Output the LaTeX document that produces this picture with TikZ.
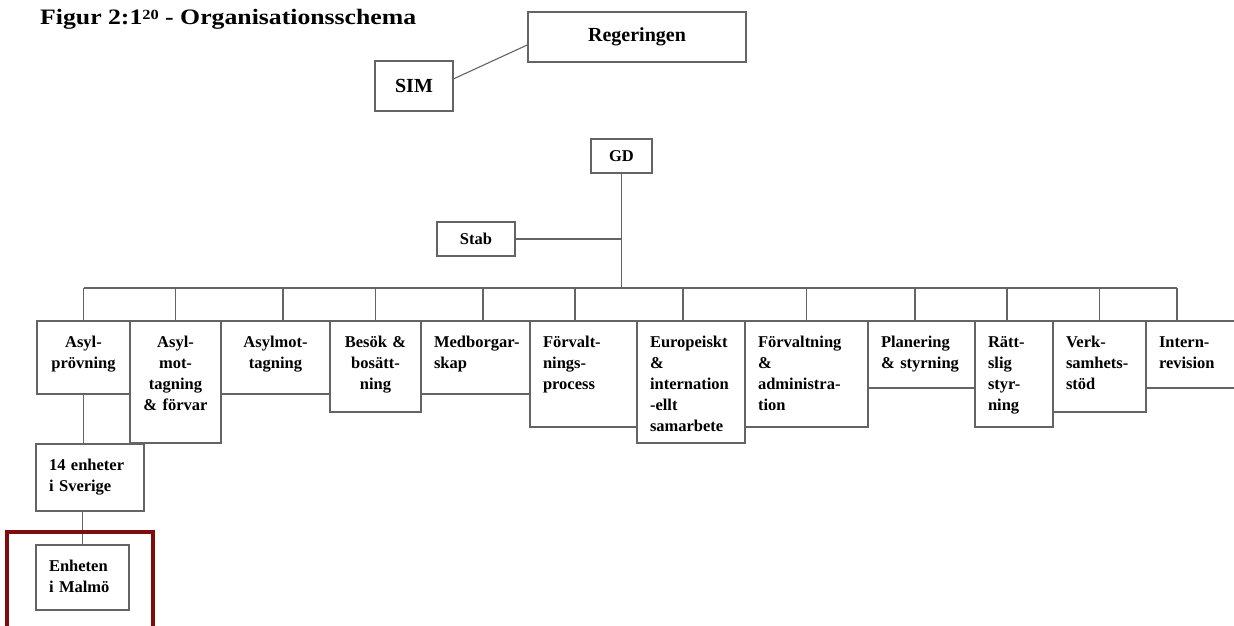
\documentclass[tikz,border=0pt]{standalone}
\usepackage{fontspec}
\setmainfont{Liberation Serif}
\newfontfamily\rubrikfont[FakeStretch=1.17]{Liberation Serif}
\usepackage{tikz}
\usetikzlibrary{positioning,calc}
\definecolor{orglinje}{RGB}{100,100,100}
\definecolor{markrod}{RGB}{128,12,12}

\begin{document}
\begin{tikzpicture}[x=1pt, y=-1pt,
    ledning/.style={draw=orglinje, line width=1.1pt},
    topbox/.style={draw=orglinje, line width=1.1pt, rectangle, inner sep=0pt, outer sep=0pt, font=\fontsize{20}{24}\selectfont\bfseries},
    litenbox/.style={topbox, font=\fontsize{16.5}{21}\selectfont\bfseries},
    enhet/.style={draw=orglinje, line width=1.1pt, rectangle, anchor=north west, outer sep=0pt, inner xsep=13pt, inner ysep=4pt, text height=22pt, font=\fontsize{16.5}{21}\selectfont\bfseries, align=left},
    mitt/.style={enhet, align=center}]
    \path[use as bounding box, fill=white] (0,0) rectangle (1234,625);

    \node[anchor=base west, inner sep=0pt, font=\rubrikfont\fontsize{22}{26}\selectfont\bfseries] (rubrik) at (40,24) {Figur 2:1\raisebox{5pt}{\fontsize{14}{14}\selectfont 20} - Organisationsschema};

    \node[topbox, minimum width=218pt, minimum height=50pt] (regeringen) at (637,37) {Regeringen};
    \node[topbox, minimum width=78pt, minimum height=50pt] (sim) at (414,86) {SIM};
    \node[litenbox, minimum width=61pt, minimum height=34pt] (gd) at (621.5,156) {GD};
    \node[litenbox, minimum width=78pt, minimum height=34pt] (stab) at (476,239) {Stab};

    \coordinate (buss) at (0,288);

    \node[mitt, text width=67pt, text depth=43pt] (asylprov) at (37,321) {Asyl-\\prövning};
    \node[mitt, text width=65pt, text depth=92pt] (asylforvar) at (asylprov.north east) {Asyl-\\mot-\\tagning\\\& förvar};
    \node[mitt, text width=83pt, text depth=43pt] (asylmot) at (asylforvar.north east) {Asylmot-\\tagning};
    \node[mitt, text width=65pt, text depth=61pt] (besok) at (asylmot.north east) {Besök \&\\bosätt-\\ning};
    \node[enhet, text width=83pt, text depth=43pt] (medborg) at (besok.north east) {\mbox{Medborgar-}\\skap};
    \node[enhet, text width=81pt, text depth=76pt] (forvproc) at (medborg.north east) {Förvalt-\\nings-\\process};
    \node[enhet, text width=82pt, text depth=92pt] (europa) at (forvproc.north east) {Europeiskt\\\&\\internation\\-ellt\\samarbete};
    \node[enhet, text width=97pt, text depth=76pt] (forvadm) at (europa.north east) {Förvaltning\\\&\\administra-\\tion};
    \node[enhet, text width=81pt, text depth=37pt] (planering) at (forvadm.north east) {Planering\\\& styrning};
    \node[enhet, text width=52pt, text depth=76pt] (rattslig) at (planering.north east) {Rätt-\\slig\\styr-\\ning};
    \node[enhet, text width=67pt, text depth=61pt] (verksamhet) at (rattslig.north east) {Verk-\\samhets-\\stöd};
    \node[enhet, text width=64pt, text depth=37pt] (intrev) at (verksamhet.north east) {Intern-\\revision};

    \node[enhet, text width=82pt, text depth=37pt] (sverige) at (36,444) {14 enheter\\i Sverige};
    \node[enhet, text width=67pt, text depth=35pt] (malmo) at (36,545) {Enheten\\i Malmö};

    % ledningslinjer
    \draw[ledning] (sim.10) -- (regeringen.184);
    \draw[ledning] (gd.south) -- (gd.south |- buss);
    \draw[ledning] (stab.east) -- (stab.east -| gd.south);
    \draw[ledning] (asylprov.north |- buss) -- ([xshift=-14pt]intrev.north |- buss);
    \foreach \enh/\dx in {asylprov/0, asylforvar/0, asylmot/7.5, besok/0, medborg/7.5, forvproc/-8.5, europa/-8, forvadm/0, planering/-6.5, rattslig/-7, verksamhet/0, intrev/-14}
        \draw[ledning] ([xshift=\dx pt]\enh.north) -- ([xshift=\dx pt]\enh.north |- buss);
    \draw[ledning] (asylprov.south) -- (asylprov.south |- sverige.north);
    \draw[ledning] (malmo.north |- sverige.south) -- (malmo.north);

    % markering
    \draw[draw=markrod, line width=4pt] ([xshift=-29pt, yshift=13pt]malmo.north west) rectangle ([xshift=24pt, yshift=-30pt]malmo.south east);
\end{tikzpicture}
\end{document}
